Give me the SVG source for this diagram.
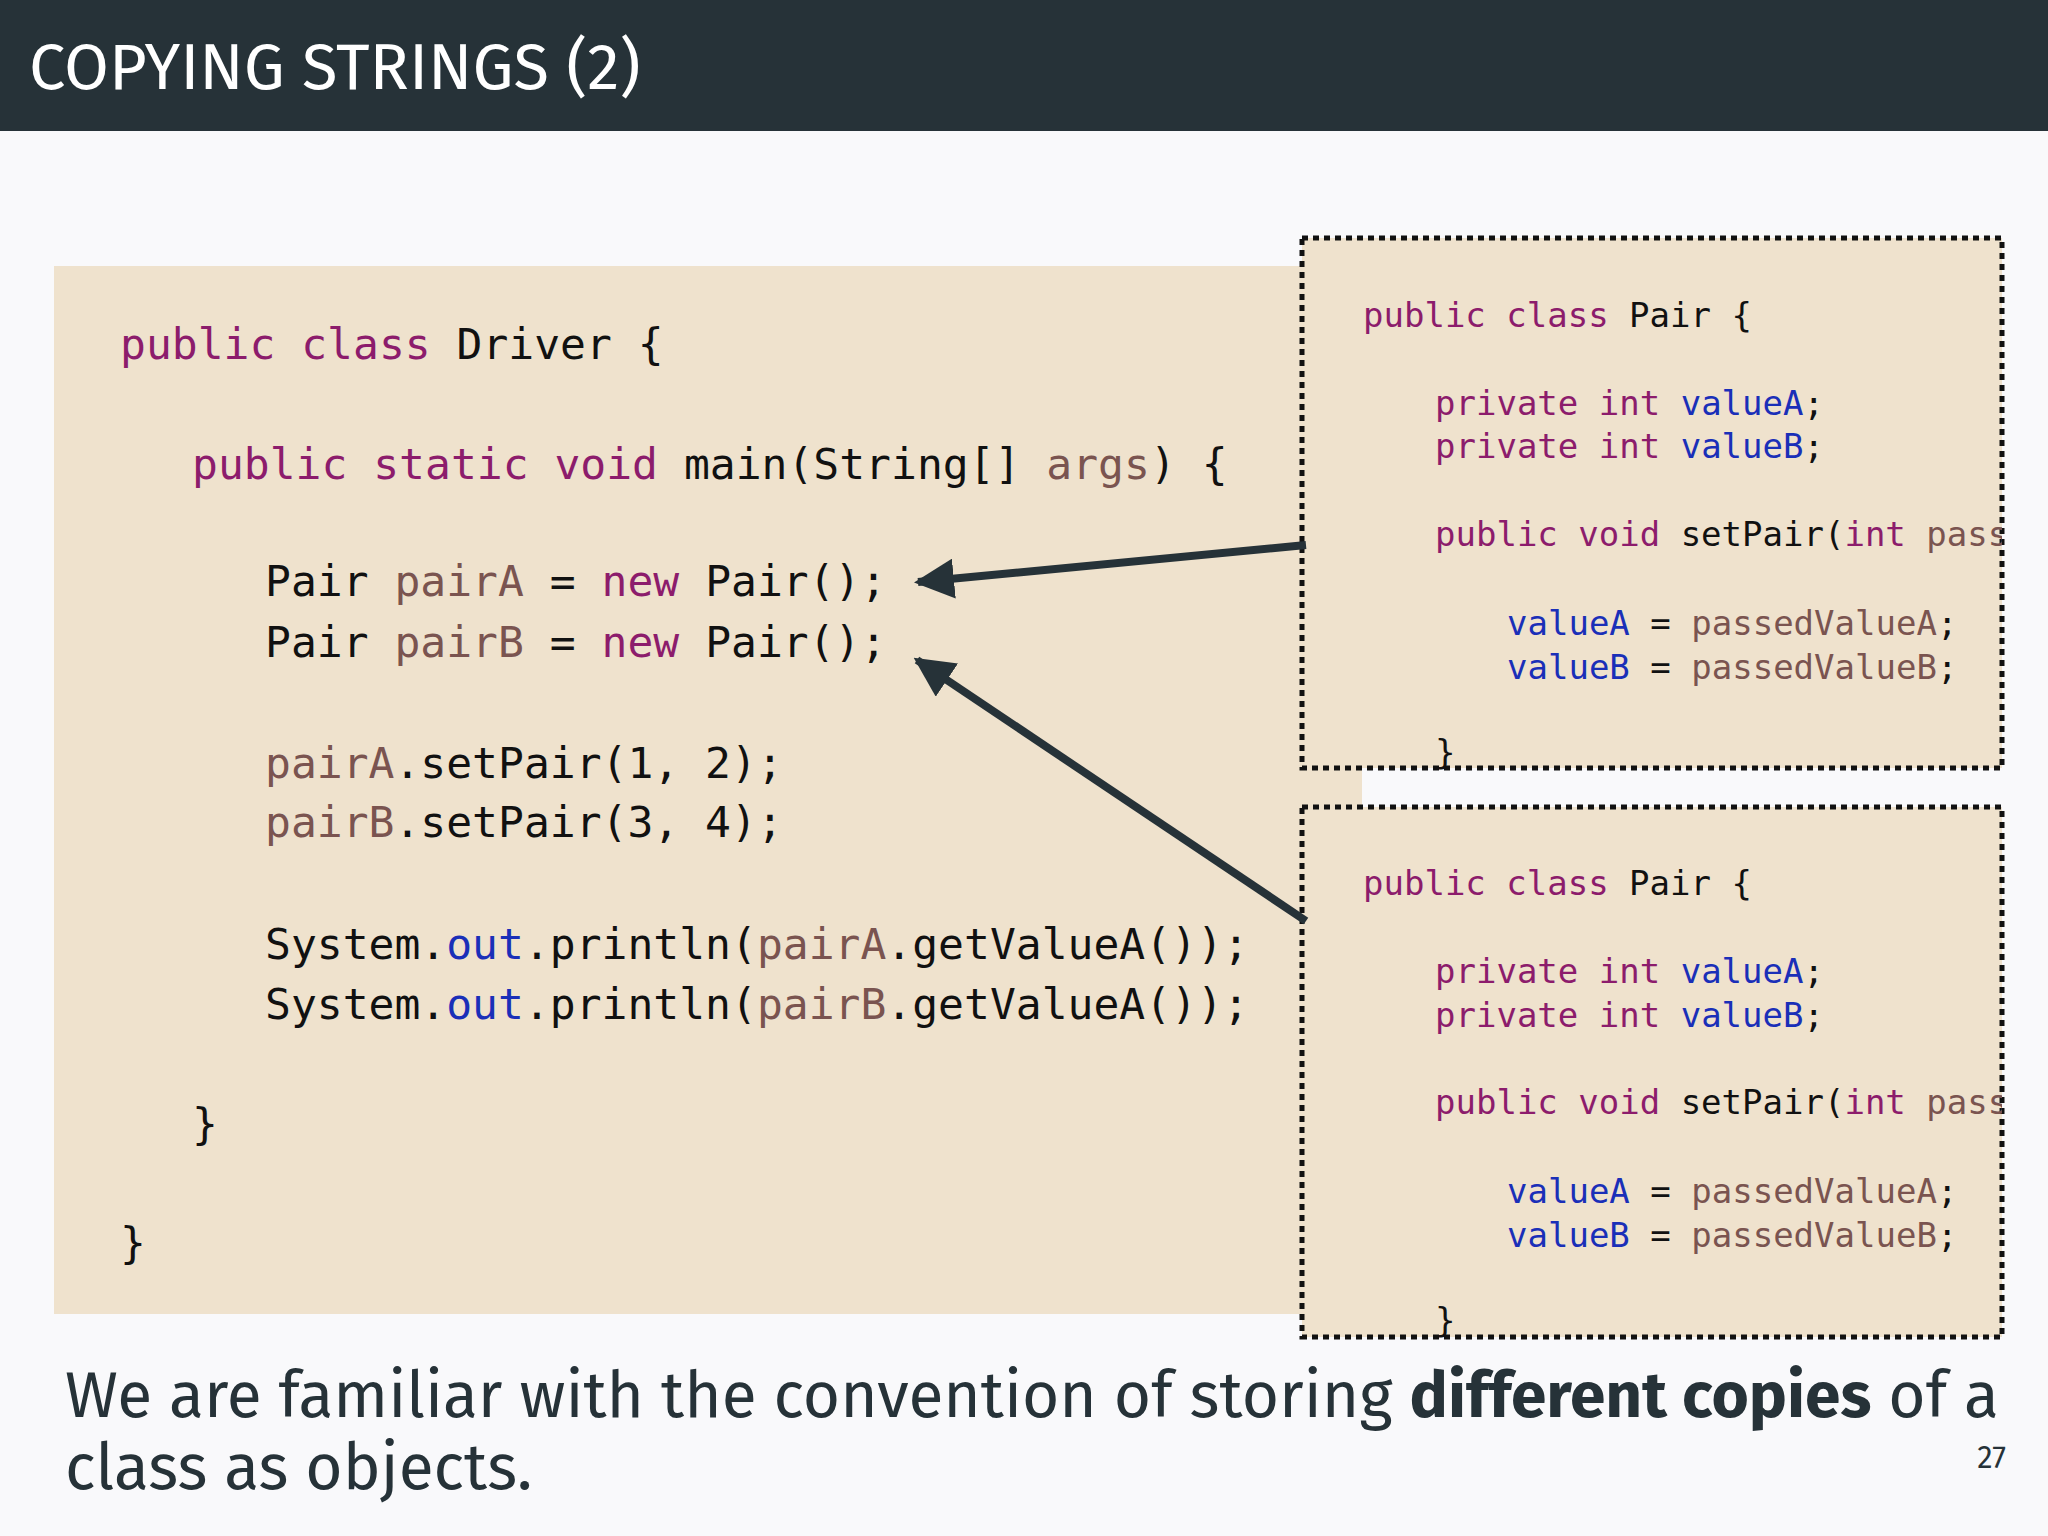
<svg xmlns="http://www.w3.org/2000/svg" width="2048" height="1536" viewBox="0 0 2048 1536">
<defs>
<style>
.c{font-family:"DejaVu Sans Mono","Liberation Mono",monospace;fill:#111}
.m{font-size:43px}
.s{font-size:34px}
.k{fill:#8c1c6c}
.v{fill:#7a5450}
.f{fill:#1a2fb8}
.box{fill:#efe2cd;stroke:#111;stroke-width:5;stroke-dasharray:6 5}
</style>
<marker id="ah" viewBox="0 0 10 10" refX="9" refY="5" markerWidth="5" markerHeight="5" orient="auto" markerUnits="strokeWidth"><path d="M0,0L10,5L0,10z" fill="#263238"/></marker>
<clipPath id="cp"><rect x="1302" y="200" width="700" height="1200"/></clipPath>
</defs>
<rect width="2048" height="1536" fill="#f9f9fb"/>
<rect width="2048" height="131" fill="#263238"/>
<text x="29" y="89" font-family="Fira Sans,Open Sans,Noto Sans,sans-serif" font-size="65" fill="#fff">COPYING STRINGS (2)</text>
<g id="driver">
<rect x="54" y="266" width="1308" height="1048" fill="#efe2cd"/>
<text class="c m" x="120" y="359"><tspan class="k">public class</tspan> Driver {</text>
<text class="c m" x="192" y="479"><tspan class="k">public static void</tspan> main(String[] <tspan class="v">args</tspan>) {</text>
<text class="c m" x="265" y="596">Pair <tspan class="v">pairA</tspan> = <tspan class="k">new</tspan> Pair();</text>
<text class="c m" x="265" y="657">Pair <tspan class="v">pairB</tspan> = <tspan class="k">new</tspan> Pair();</text>
<text class="c m" x="265" y="778"><tspan class="v">pairA</tspan>.setPair(1, 2);</text>
<text class="c m" x="265" y="837"><tspan class="v">pairB</tspan>.setPair(3, 4);</text>
<text class="c m" x="265" y="959">System.<tspan class="f">out</tspan>.println(<tspan class="v">pairA</tspan>.getValueA());</text>
<text class="c m" x="265" y="1019">System.<tspan class="f">out</tspan>.println(<tspan class="v">pairB</tspan>.getValueA());</text>
<text class="c m" x="192" y="1139">}</text>
<text class="c m" x="120" y="1258">}</text>
</g>
<g id="pairA">
<rect class="box" x="1302" y="238" width="700" height="530"/>
<g clip-path="url(#cp)">
<text class="c s" x="1363" y="327"><tspan class="k">public class</tspan> Pair {</text>
<text class="c s" x="1435" y="415"><tspan class="k">private int</tspan> <tspan class="f">valueA</tspan>;</text>
<text class="c s" x="1435" y="458"><tspan class="k">private int</tspan> <tspan class="f">valueB</tspan>;</text>
<text class="c s" x="1435" y="546"><tspan class="k">public void</tspan> setPair(<tspan class="k">int</tspan> <tspan class="v">pass</tspan></text>
<text class="c s" x="1507" y="635"><tspan class="f">valueA</tspan> = <tspan class="v">passedValueA</tspan>;</text>
<text class="c s" x="1507" y="679"><tspan class="f">valueB</tspan> = <tspan class="v">passedValueB</tspan>;</text>
<text class="c s" x="1435" y="764">}</text>
</g>
</g>
<g id="pairB">
<rect class="box" x="1302" y="807" width="700" height="530"/>
<g clip-path="url(#cp)">
<text class="c s" x="1363" y="895"><tspan class="k">public class</tspan> Pair {</text>
<text class="c s" x="1435" y="983"><tspan class="k">private int</tspan> <tspan class="f">valueA</tspan>;</text>
<text class="c s" x="1435" y="1027"><tspan class="k">private int</tspan> <tspan class="f">valueB</tspan>;</text>
<text class="c s" x="1435" y="1114"><tspan class="k">public void</tspan> setPair(<tspan class="k">int</tspan> <tspan class="v">pass</tspan></text>
<text class="c s" x="1507" y="1203"><tspan class="f">valueA</tspan> = <tspan class="v">passedValueA</tspan>;</text>
<text class="c s" x="1507" y="1247"><tspan class="f">valueB</tspan> = <tspan class="v">passedValueB</tspan>;</text>
<text class="c s" x="1435" y="1332">}</text>
</g>
</g>
<g id="connectors" stroke="#263238" stroke-width="8" fill="none">
<line x1="1306" y1="545" x2="918" y2="582" marker-end="url(#ah)"/>
<line x1="1306" y1="921" x2="917" y2="660" marker-end="url(#ah)"/>
</g>
<g font-family="Fira Sans,Open Sans,Noto Sans,sans-serif" fill="#263238">
<text x="65" y="1417" font-size="64">We are familiar with the convention of storing <tspan font-weight="bold">different copies</tspan> of a</text>
<text x="65" y="1489" font-size="64">class as objects.</text>
<text x="2006" y="1468" font-size="31" text-anchor="end">27</text>
</g>
</svg>
